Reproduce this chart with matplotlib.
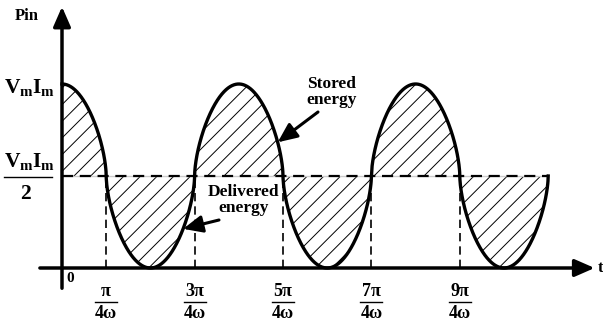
import matplotlib.pyplot as plt
import numpy as np

plt.rcParams['font.family'] = 'Liberation Serif'
plt.rcParams['font.weight'] = 'bold'
plt.rcParams['mathtext.fontset'] = 'custom'
plt.rcParams['mathtext.rm'] = 'Liberation Serif:bold'
plt.rcParams['mathtext.it'] = 'Liberation Serif:bold'
plt.rcParams['mathtext.bf'] = 'Liberation Serif:bold'
plt.rcParams['hatch.linewidth'] = 0.7

# Pin = VmIm/2 * (1 + cos 2wt), t in units of pi/(4w)
VmIm = 1.0
t_end = 11          # curve ends at 11pi/4w
shape = 0.6         # the drawn wave is rounder than a pure cosine
tick_pos = [1, 3, 5, 7, 9]
tick_num = ['π', '3π', '5π', '7π', '9π']
tick_den = '4ω'
stored_at = 4.88    # where the arrows touch the curve
delivered_at = 2.74


def pin(t):
    c = np.cos(np.asarray(t) * np.pi / 2)
    return VmIm / 2 * (1 + np.sign(c) * np.abs(c) ** shape)


W, H = 603, 323
fig = plt.figure(figsize=(W / 100, H / 100), dpi=100)
ax = fig.add_axes([0, 0, 1, 1])
ax.axis('off')
# 62 px = t 0, 44.2 px per pi/4w ; 268 px = 0, 184 px per VmIm
ax.set_xlim(-62 / 44.2, (W - 62) / 44.2)
ax.set_ylim(-(H - 268) / 184, 268 / 184)

t = np.linspace(0, t_end, 2000)
p = pin(t)
mid = VmIm / 2

ax.fill_between(t, p, mid, facecolor='none', edgecolor='k', hatch='//', linewidth=0)
ax.plot([0, t_end], [mid, mid], color='0.8', lw=1.0)
ax.plot([0, t_end], [mid, mid], color='k', lw=1.6, dashes=(5, 3))
for x in tick_pos:
    ax.plot([x, x], [0, mid], color='k', lw=1.2, dashes=(5, 3))
ax.plot(t, p, color='k', lw=2.4)

# axes with arrows
arr = dict(arrowstyle='-|>,head_length=0.8,head_width=0.35', lw=2.5, color='k',
           shrinkA=0, shrinkB=0, mutation_scale=15)
ax.annotate('', xy=(12.05, 0), xytext=(-0.5, 0), arrowprops=arr)
ax.annotate('', xy=(0, 1.42), xytext=(0, -0.11), arrowprops=arr)


def fy(y):
    return 1 - y / H


def fx(x):
    return x / W


fig.text(fx(27), fy(16), 'Pin', fontsize=12, ha='center', va='center')
fig.text(fx(601), fy(268), 't', fontsize=12, ha='center', va='center')
fig.text(fx(70), fy(278), '0', fontsize=11, ha='center', va='center')
fig.text(fx(30), fy(88), r'$V_mI_m$', fontsize=15.5, ha='center', va='center')
fig.text(fx(30), fy(162), r'$V_mI_m$', fontsize=15.5, ha='center', va='center')
fig.add_artist(plt.Line2D([fx(4), fx(52)], [fy(177), fy(177)], color='k', lw=1.0))
fig.text(fx(25), fy(194), '2', fontsize=15.5, ha='center', va='center')

for x, num in zip(tick_pos, tick_num):
    xf = fx(62 + 44.2 * x)
    fig.text(xf, fy(291), num, fontsize=13, ha='center', va='center')
    fig.add_artist(plt.Line2D([xf - 11 / W, xf + 11 / W], [fy(302), fy(302)], color='k', lw=1.0))
    fig.text(xf, fy(313), tick_den, fontsize=13, ha='center', va='center')

note = dict(arrowstyle='-|>,head_length=0.9,head_width=0.4', lw=2.2, color='k',
            shrinkA=0, shrinkB=0, mutation_scale=13)
ax.annotate('Stored\nenergy', xy=(stored_at, float(pin(stored_at))),
            xytext=(332, H - 92), textcoords='figure pixels', fontsize=12.5,
            ha='center', va='center', linespacing=1.05)
ax.annotate('', xy=(stored_at, float(pin(stored_at))), xytext=(318, H - 112),
            textcoords='figure pixels', arrowprops=note)
ax.annotate('Delivered\nenergy', xy=(delivered_at, float(pin(delivered_at))),
            xytext=(244, H - 200), textcoords='figure pixels', fontsize=12.5,
            ha='center', va='center', linespacing=1.05)
ax.annotate('', xy=(delivered_at, float(pin(delivered_at))), xytext=(219, H - 220),
            textcoords='figure pixels', arrowprops=note)

fig.savefig('out.png', dpi=100)
